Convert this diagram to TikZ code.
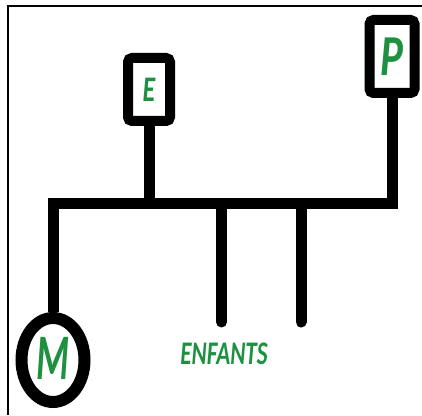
\documentclass[tikz,border=0pt]{standalone}
\usepackage{xcolor}
\usepackage{tikz}
\usepackage{fontspec}
\newfontfamily\carlito{Carlito}
\definecolor{kingreen}{RGB}{30, 145, 65}
\usetikzlibrary{shapes, positioning, calc}

\begin{document}
\begin{tikzpicture}[
    x=1pt, y=1pt,
    person/.style={rectangle, draw=black, line width=10pt, rounded corners=4pt, fill=white, inner sep=0pt, text=kingreen, font=\carlito\bfseries\itshape},
    mother/.style={ellipse, draw=black, line width=12pt, fill=white, inner sep=0pt, minimum width=63pt, minimum height=84pt, text=kingreen, font=\carlito\bfseries\itshape\fontsize{65}{65}\selectfont},
    link/.style={line width=11pt, line join=miter},
    frame/.style={line width=2pt}
]
    \useasboundingbox (0,0) rectangle (422,415);
    \draw[frame] (8,0) -- (8,409) -- (422,409);

    \node[person, minimum width=42pt, minimum height=63pt] (E) at (149, 325.5) {\fontsize{36}{36}\selectfont\scalebox{0.72}[1]{E}};
    \node[person, minimum width=45pt, minimum height=73pt] (P) at (392, 358.5) {\fontsize{58}{58}\selectfont\scalebox{0.74}[1]{P}};
    \node[mother] (M) at (53, 55) {\raisebox{4pt}{\scalebox{0.58}[1]{M}}};

    \coordinate (barL) at (53, 211);
    \coordinate (barR) at (392, 211);
    \coordinate (kid1) at (221.5, 93);
    \coordinate (kid2) at (301, 93);

    \draw[link] (M) -- (barL) -- (barR) -- (P);
    \draw[link] (E) -- (E |- barL);
    \draw[link, line cap=round] (kid1 |- barL) -- (kid1);
    \draw[link, line cap=round] (kid2 |- barL) -- (kid2);

    % Labels
    \node[text=kingreen, font=\carlito\bfseries\itshape\fontsize{33}{33}\selectfont] (kids) at (224, 61) {\scalebox{0.7}[1]{ENFANTS}};
\end{tikzpicture}
\end{document}
